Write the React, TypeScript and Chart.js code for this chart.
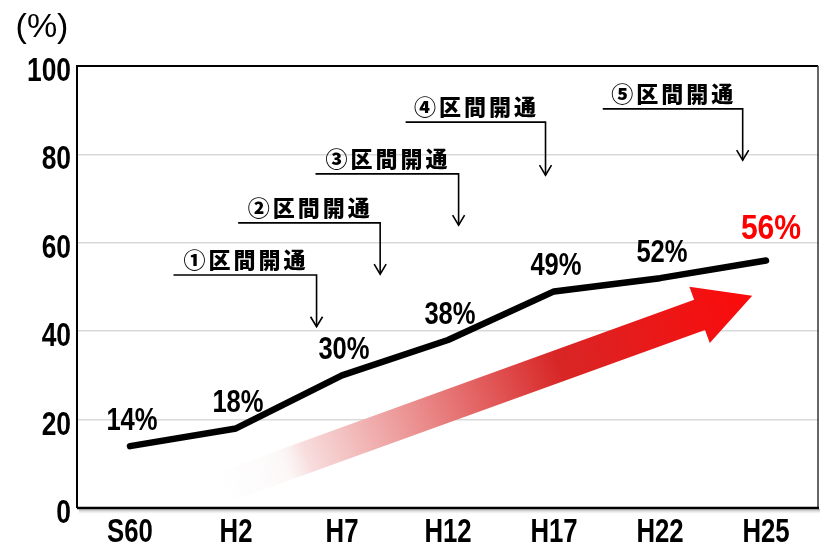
import React, { useEffect, useRef } from "react";
import { Chart, registerables } from "chart.js";

Chart.register(...registerables);

const CATEGORIES = ["S60", "H2", "H7", "H12", "H17", "H22", "H25"];
const VALUES = [14, 18, 30, 38, 49, 52, 56];
const VALUE_LABELS = ["14%", "18%", "30%", "38%", "49%", "52%", "56%"];
const Y_MIN = 0;
const Y_MAX = 100;
const Y_STEP = 20;
const UNIT_LABEL = "(%)";

// annotation callouts: text, underline start (category index), arrow x (category index),
// underline level (value), arrow tip level (value)
const ANNOT_TEXT = ["①区間開通", "②区間開通", "③区間開通", "④区間開通", "⑤区間開通"];
const ANNOT_START = [0.41, 1.02, 1.75, 2.6, 4.46];
const ANNOT_END = [1.76, 2.36, 3.1, 3.92, 5.78];
const ANNOT_LINE = [52.7, 64.5, 75.6, 87.3, 90.3];
const ANNOT_TIP = [41.0, 52.9, 64.0, 75.3, 78.7];

// trend arrow (category index, value)
const TREND_FROM = [0.8, 4];
const TREND_TO = [5.87, 48];

const SANS = "'Liberation Sans', Arial, sans-serif";
const CJK_FONT = "'Noto Sans CJK JP', 'Noto Sans', sans-serif";

function drawNarrow(ctx: any, text: string, x: number, y: number, font: string, sx: number, align: string) {
  ctx.save();
  ctx.font = font;
  ctx.textAlign = align;
  ctx.textBaseline = "middle";
  ctx.translate(x, y);
  ctx.scale(sx, 1);
  ctx.fillText(text, 0, 0);
  ctx.restore();
}

const decorPlugin = {
  id: "decor",
  beforeDatasetsDraw(chart: any) {
    const { ctx, scales } = chart;
    const xs = scales.x;
    const ys = scales.y;
    // trend arrow
    const x0 = xs.getPixelForValue(TREND_FROM[0]);
    const y0 = ys.getPixelForValue(TREND_FROM[1]);
    const x1 = xs.getPixelForValue(TREND_TO[0]);
    const y1 = ys.getPixelForValue(TREND_TO[1]);
    const dx = x1 - x0;
    const dy = y1 - y0;
    const len = Math.sqrt(dx * dx + dy * dy);
    const ux = dx / len;
    const uy = dy / len;
    const nx = -uy;
    const ny = ux;
    const shaftHalf = 16;
    const headHalf = 30;
    const headLen = 56;
    const bx = x1 - ux * headLen;
    const by = y1 - uy * headLen;
    ctx.save();
    const grad = ctx.createLinearGradient(x0, y0, x1, y1);
    grad.addColorStop(0, "rgba(250,250,255,0)");
    grad.addColorStop(0.13, "rgba(250,240,240,0.5)");
    grad.addColorStop(0.17, "rgba(248,222,222,1)");
    grad.addColorStop(0.42, "rgb(232,125,125)");
    grad.addColorStop(0.64, "rgb(216,38,38)");
    grad.addColorStop(1, "rgb(252,10,10)");
    ctx.fillStyle = grad;
    ctx.beginPath();
    ctx.moveTo(x0 + nx * shaftHalf, y0 + ny * shaftHalf);
    ctx.lineTo(bx + nx * shaftHalf, by + ny * shaftHalf);
    ctx.lineTo(bx + nx * headHalf, by + ny * headHalf);
    ctx.lineTo(x1, y1);
    ctx.lineTo(bx - nx * headHalf, by - ny * headHalf);
    ctx.lineTo(bx - nx * shaftHalf, by - ny * shaftHalf);
    ctx.lineTo(x0 - nx * shaftHalf, y0 - ny * shaftHalf);
    ctx.closePath();
    ctx.fill();
    ctx.restore();
  },
  afterDatasetsDraw(chart: any) {
    const { ctx, chartArea, scales } = chart;
    const xs = scales.x;
    const ys = scales.y;
    ctx.save();
    // frame
    ctx.strokeStyle = "#000";
    ctx.lineWidth = 2;
    ctx.beginPath();
    ctx.moveTo(chartArea.left, chartArea.bottom);
    ctx.lineTo(chartArea.left, chartArea.top);
    ctx.lineTo(chartArea.right - 1, chartArea.top);
    ctx.stroke();
    ctx.strokeStyle = "#333";
    ctx.lineWidth = 1.5;
    ctx.beginPath();
    ctx.moveTo(chartArea.right - 1, chartArea.top);
    ctx.lineTo(chartArea.right - 1, chartArea.bottom);
    ctx.stroke();
    ctx.strokeStyle = "#000";
    ctx.lineWidth = 2.5;
    ctx.beginPath();
    ctx.moveTo(chartArea.left, chartArea.bottom);
    ctx.lineTo(chartArea.right, chartArea.bottom);
    ctx.stroke();
    // shadow under bottom axis
    const sg = ctx.createLinearGradient(0, chartArea.bottom + 1, 0, chartArea.bottom + 6);
    sg.addColorStop(0, "rgba(120,120,120,0.6)");
    sg.addColorStop(1, "rgba(200,200,200,0)");
    ctx.fillStyle = sg;
    ctx.fillRect(chartArea.left + 2, chartArea.bottom + 1, chartArea.right - chartArea.left, 5);

    // axis tick labels (narrow)
    ctx.fillStyle = "#000";
    ys.ticks.forEach((t: any) => {
      const py = ys.getPixelForValue(t.value);
      drawNarrow(ctx, String(t.value), chartArea.left - 6, py + 6, `bold 33px ${SANS}`, 0.8, "right");
    });
    CATEGORIES.forEach((c, i) => {
      const px = xs.getPixelForValue(i);
      drawNarrow(ctx, c, px, chartArea.bottom + 25, `bold 33px ${SANS}`, 0.78, "center");
    });

    // value labels
    VALUES.forEach((v, i) => {
      const px = xs.getPixelForValue(i);
      const py = ys.getPixelForValue(v);
      const last = i === VALUES.length - 1;
      if (last) {
        ctx.fillStyle = "#ff0000";
        drawNarrow(ctx, VALUE_LABELS[i], px + 5, py - 31, `bold 35px ${SANS}`, 0.86, "center");
      } else {
        ctx.fillStyle = "#000";
        drawNarrow(ctx, VALUE_LABELS[i], px + 2, py - 25, `bold 32px ${SANS}`, 0.8, "center");
      }
    });

    // callouts
    ANNOT_TEXT.forEach((t, i) => {
      const sx = xs.getPixelForValue(ANNOT_START[i]);
      const ex = xs.getPixelForValue(ANNOT_END[i]);
      const ly = ys.getPixelForValue(ANNOT_LINE[i]);
      const ty = ys.getPixelForValue(ANNOT_TIP[i]);
      ctx.strokeStyle = "#000";
      ctx.lineWidth = 1.6;
      ctx.beginPath();
      ctx.moveTo(sx, ly);
      ctx.lineTo(ex, ly);
      ctx.lineTo(ex, ty);
      ctx.stroke();
      ctx.beginPath();
      ctx.moveTo(ex - 6, ty - 10);
      ctx.lineTo(ex, ty);
      ctx.lineTo(ex + 6, ty - 10);
      ctx.stroke();
      ctx.fillStyle = "#000";
      ctx.font = `900 22px ${CJK_FONT}`;
      (ctx as any).letterSpacing = "3px";
      ctx.textAlign = "center";
      ctx.textBaseline = "middle";
      ctx.fillText(t, (sx + ex) / 2 + 1, ly - 15);
      (ctx as any).letterSpacing = "0px";
    });

    // unit label
    ctx.fillStyle = "#000";
    drawNarrow(ctx, UNIT_LABEL, 42, 28, `34px ${SANS}`, 1, "center");
    ctx.restore();
  },
};

export default function App() {
  const ref = useRef<HTMLCanvasElement | null>(null);
  useEffect(() => {
    document.body.style.margin = "0";
    if (!ref.current) return;
    const chart = new Chart(ref.current, {
      type: "line",
      data: {
        labels: CATEGORIES,
        datasets: [
          {
            data: VALUES,
            borderColor: "#000",
            borderWidth: 6.5,
            pointRadius: 0,
            tension: 0,
            borderCapStyle: "round",
            borderJoinStyle: "round",
            fill: false,
          },
        ],
      },
      options: {
        animation: false,
        responsive: false,
        layout: { padding: { top: 66, right: 1, left: 0, bottom: 0 } },
        plugins: { legend: { display: false }, tooltip: { enabled: false } },
        scales: {
          x: {
            offset: true,
            grid: { display: false, drawTicks: false },
            border: { display: false },
            ticks: { display: false },
            afterFit: (s: any) => {
              s.height = 41;
            },
          },
          y: {
            min: Y_MIN,
            max: Y_MAX,
            grid: { color: "#d9d9d9", lineWidth: 1.5, drawTicks: false },
            border: { display: false },
            ticks: { stepSize: Y_STEP, display: false },
            afterFit: (s: any) => {
              s.width = 77;
            },
          },
        },
      },
      plugins: [decorPlugin],
    });
    return () => chart.destroy();
  }, []);
  return <canvas ref={ref} width={820} height={549} style={{ display: "block" }} />;
}
